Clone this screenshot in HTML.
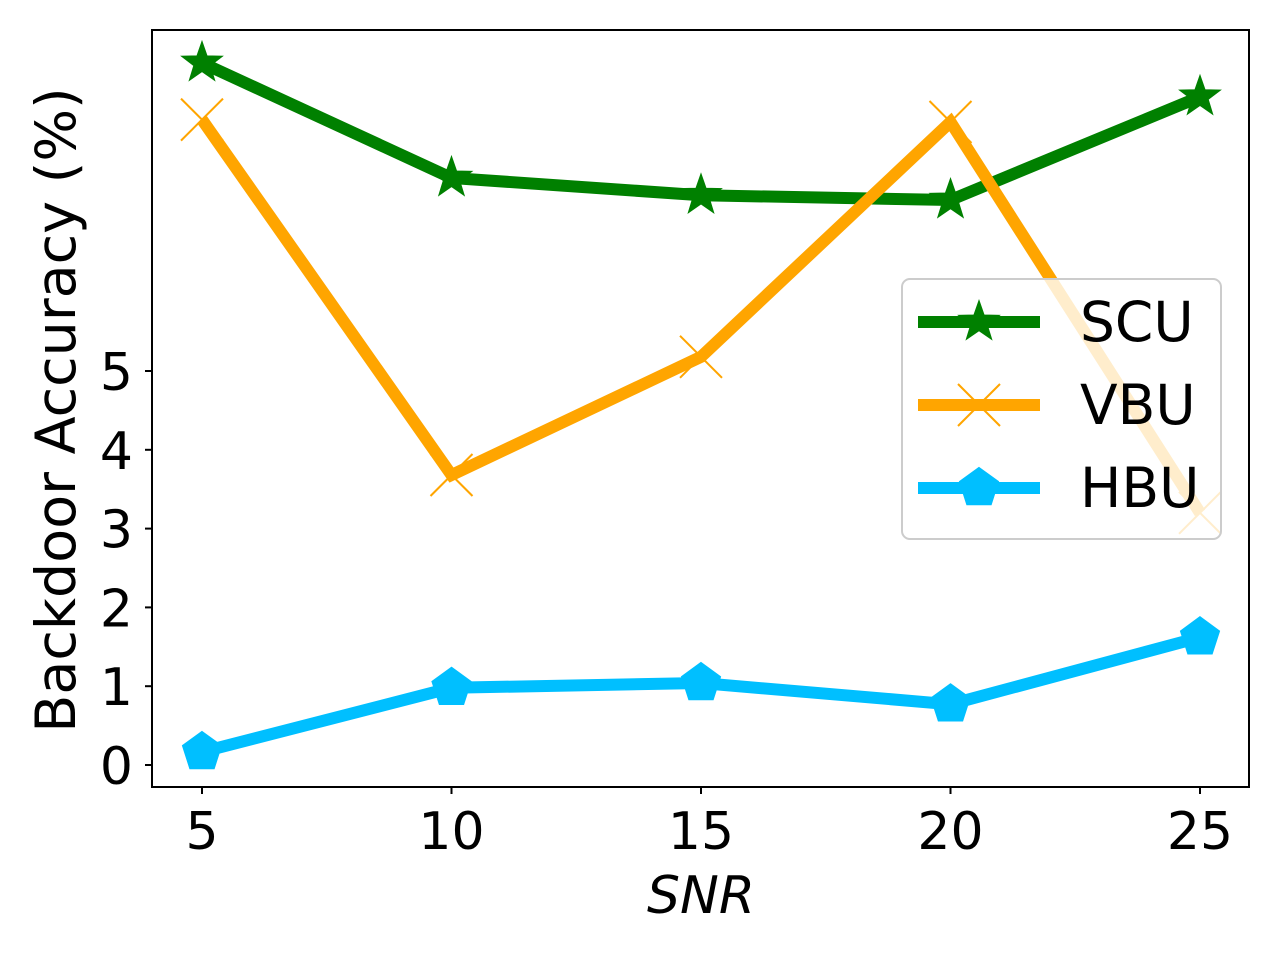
<!DOCTYPE html>
<html><head><meta charset="utf-8"><style>
body{margin:0;background:#fff;}
svg{display:block;font-family:"DejaVu Sans","Liberation Sans",sans-serif;}
</style></head><body>
<svg id="chart" width="1280" height="960">
<rect x="152" y="30" width="1097" height="757" fill="#fff" stroke="#000" stroke-width="2"/>
<g id="ticks"></g>
<g id="series"></g>
<text x="75" y="410" font-size="55.5" text-anchor="middle" transform="rotate(-90 75 410)">Backdoor Accuracy (%)</text>
<text x="701" y="913" font-size="52" font-style="italic" text-anchor="middle">SNR</text>
<g id="legend"></g>
</svg>
<script>
const categories=[5,10,15,20,25];
const scu=[8.91,7.45,7.23,7.17,8.48];
const vbu=[8.19,3.68,5.18,8.16,3.2];
const hbu=[0.165,0.98,1.04,0.77,1.62];
const yTicks=[0,1,2,3,4,5];
const xTicks=[5,10,15,20,25];
const seriesNames=["SCU","VBU","HBU"];
const NS="http://www.w3.org/2000/svg";
function X(v){return 202+(v-5)*(998/20);}
function Y(v){return 765-v*78.8;}
function mk(tag,attrs,parent){const e=document.createElementNS(NS,tag);for(const k in attrs)e.setAttribute(k,attrs[k]);parent.appendChild(e);return e;}
const tg=document.getElementById('ticks');
yTicks.forEach(t=>{
 const l=mk('line',{x1:145,x2:152,y1:Y(t),y2:Y(t),stroke:'#000','stroke-width':2},tg);
 
 
 const tx=mk('text',{x:133,y:Y(t)+19,'font-size':52,'text-anchor':'end'},tg);tx.textContent=t;
 
 
});
xTicks.forEach(t=>{
 const l=mk('line',{x1:X(t),x2:X(t),y1:787,y2:794,stroke:'#000','stroke-width':2},tg);
 
 
 const tx=mk('text',{x:X(t),y:849,'font-size':52,'text-anchor':'middle'},tg);tx.textContent=t;
 
 
});
function star(cx,cy,r,color,p){let pts=[];for(let i=0;i<10;i++){const a=-Math.PI/2+i*Math.PI/5;const rr=i%2?r*0.4:r;pts.push((cx+rr*Math.cos(a)).toFixed(1)+','+(cy+rr*Math.sin(a)).toFixed(1));}
 const e=mk('polygon',{points:pts.join(' '),fill:color,stroke:color,'stroke-width':2},p);return e;}
function pent(cx,cy,r,color,p){let pts=[];for(let i=0;i<5;i++){const a=-Math.PI/2+i*2*Math.PI/5;pts.push((cx+r*Math.cos(a)).toFixed(1)+','+(cy+r*Math.sin(a)).toFixed(1));}
 return mk('polygon',{points:pts.join(' '),fill:color,stroke:color,'stroke-width':2},p);}
function cross(cx,cy,r,color,p){const g=mk('g',{},p);mk('line',{x1:cx-r,y1:cy-r,x2:cx+r,y2:cy+r,stroke:color,'stroke-width':2},g);mk('line',{x1:cx-r,y1:cy+r,x2:cx+r,y2:cy-r,stroke:color,'stroke-width':2},g);return g;}
const sg=document.getElementById('series');
const defs=[[scu,'#008000',star,20],[vbu,'#ffa500',cross,21],[hbu,'#00bfff',pent,20]];
defs.forEach((d,i)=>{
 const [vals,color,fn,r]=d;
 const pl=mk('polyline',{points:vals.map((v,j)=>X(categories[j])+','+Y(v)).join(' '),fill:'none',stroke:color,'stroke-width':12,'stroke-linejoin':'miter'},sg);
 
 
 vals.forEach((v,j)=>{const m=fn(X(categories[j]),Y(v),r,color,sg);
  
  });
});
const lg=document.getElementById('legend');
mk('rect',{x:902,y:279,width:319,height:260,rx:8,fill:'rgba(255,255,255,0.8)',stroke:'#ccc','stroke-width':2},lg);
defs.forEach((d,i)=>{
 const y=322+i*83;
 const g=mk('g',{},lg);
 
 
 mk('line',{x1:918,x2:1040,y1:y,y2:y,stroke:d[1],'stroke-width':12},g);
 d[2](979,y,d[3],d[1],g);
 const t=mk('text',{x:1080,y:y+19,'font-size':55},g);t.textContent=seriesNames[i];
});
</script>
</body></html>
